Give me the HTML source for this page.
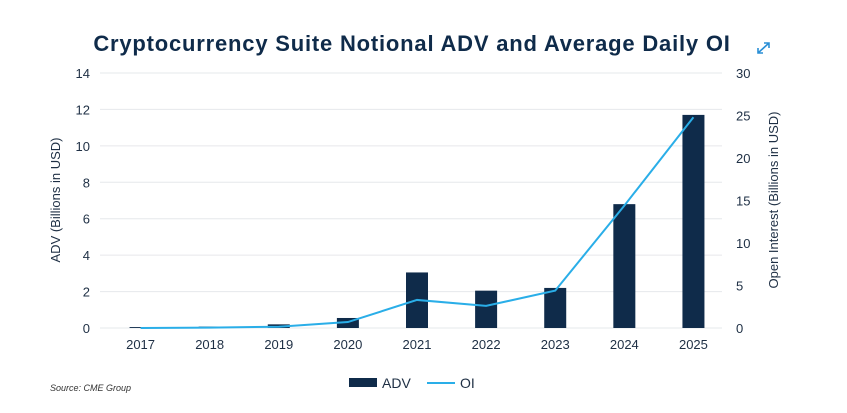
<!DOCTYPE html>
<html><head><meta charset="utf-8"><style>
body{margin:0;background:#fff;width:847px;height:408px;overflow:hidden;font-family:"Liberation Sans",sans-serif}
</style></head><body>
<svg width="847" height="408">
<text x="412" y="51" text-anchor="middle" font-size="22" font-weight="bold" letter-spacing="0.8" fill="#0f2b4a">Cryptocurrency Suite Notional ADV and Average Daily OI</text>
<g stroke="#2a8fd6" stroke-width="1.6" fill="none">
<path d="M758 53 L769 43 M764 43 L769 43 L769 48 M758 48 L758 53 L763 53"/></g>
<g id="grid"></g><g id="bars"></g><g id="line"></g><g id="axes"></g>
<text transform="translate(60,200) rotate(-90)" text-anchor="middle" font-size="13" fill="#1e2f44">ADV (Billions in USD)</text>
<text transform="translate(778,200) rotate(-90)" text-anchor="middle" font-size="13" fill="#1e2f44">Open Interest (Billions in USD)</text>
<g>
<rect x="349" y="378" width="28" height="9" fill="#0f2b4a"/>
<text x="382" y="388" font-size="14" fill="#1e2f44">ADV</text>
<line x1="427" y1="383" x2="455" y2="383" stroke="#2aaee8" stroke-width="2"/>
<text x="460" y="388" font-size="14" fill="#1e2f44">OI</text>
</g>
<text x="50" y="391" font-size="9" font-style="italic" fill="#333">Source: CME Group</text>
</svg>
<script>
const years=["2017","2018","2019","2020","2021","2022","2023","2024","2025"];
const adv=[0.05,0.08,0.2,0.55,3.05,2.05,2.2,6.8,11.7];
const oi=[0.0,0.05,0.15,0.7,3.3,2.6,4.4,14.4,24.8];
const leftTicks=[0,2,4,6,8,10,12,14];
const rightTicks=[0,5,10,15,20,25,30];
const NS="http://www.w3.org/2000/svg";
const x0=100,x1=722,yb=328,yt=73;
const yL=v=>yb-(v/14)*(yb-yt);
const yR=v=>yb-(v/30)*(yb-yt);
const step=(x1-x0)/years.length;
const xC=i=>x0+step*(i+0.5)+6;
function mk(t,a,p){const e=document.createElementNS(NS,t);for(const k in a)e.setAttribute(k,a[k]);document.getElementById(p).appendChild(e);return e;}
leftTicks.forEach(v=>{
 const g=mk("line",{x1:x0,x2:x1,y1:yL(v),y2:yL(v),stroke:"#e6e8eb","stroke-width":1},"grid");
 
 
 const t=mk("text",{x:90,y:yL(v)+5,"text-anchor":"end","font-size":13,fill:"#1e2f44"},"axes");
 t.textContent=v;
 
 
});
rightTicks.forEach(v=>{
 const t=mk("text",{x:736,y:yR(v)+5,"font-size":13,fill:"#1e2f44"},"axes");
 t.textContent=v;
 
 
});
years.forEach((y,i)=>{
 const b=mk("rect",{x:xC(i)-11,width:22,y:yL(adv[i]),height:yb-yL(adv[i]),fill:"#0f2b4a"},"bars");
 
 
 const t=mk("text",{x:xC(i),y:349,"text-anchor":"middle","font-size":13,fill:"#1e2f44"},"axes");
 t.textContent=y;
 
 
});
const l=mk("polyline",{points:oi.map((v,i)=>xC(i)+","+yR(v)).join(" "),fill:"none",stroke:"#2aaee8","stroke-width":2},"line");


</script>
</body></html>
